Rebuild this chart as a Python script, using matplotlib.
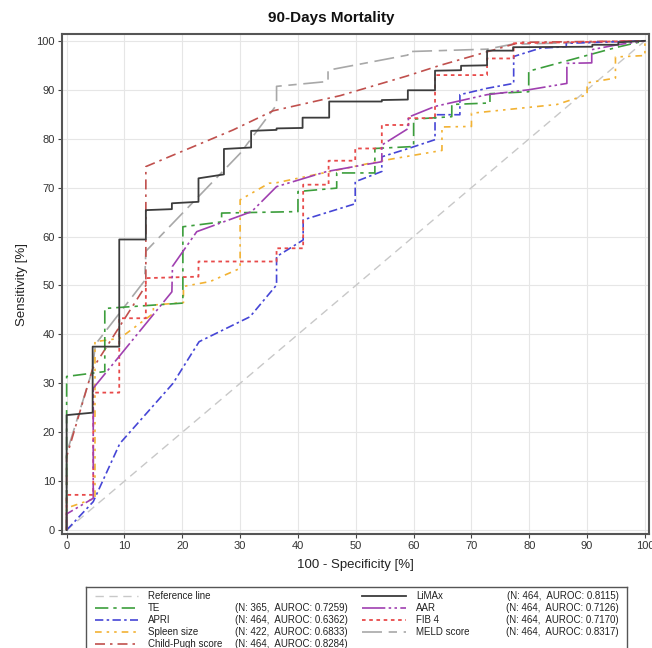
import matplotlib
matplotlib.use("Agg")
import matplotlib.pyplot as plt
from matplotlib.lines import Line2D

plt.rcParams['font.family'] = ['Liberation Sans', 'DejaVu Sans']

# ---------------- data (100 - specificity, sensitivity) ----------------
ref_x = [0, 100]
ref_y = [0, 100]

limax_x = [0, 0, 4.5, 4.5, 9.1, 9.1, 13.7, 13.7, 18.2, 18.2, 22.8, 22.8, 27.2, 27.2, 31.9, 31.9,
           36.3, 36.3, 40.8, 40.8, 45.4, 45.4, 54.5, 54.5, 59.0, 59.0, 63.7, 63.7, 68.2, 68.2,
           72.7, 72.7, 77.2, 77.2, 90.9, 90.9, 95.4, 95.4, 100]
limax_y = [0, 23.5, 24.0, 37.5, 37.5, 59.4, 59.4, 65.4, 65.6, 66.8, 67.1, 71.9, 72.7, 77.9, 78.2, 81.6,
           81.8, 82.1, 82.2, 84.3, 84.3, 87.6, 87.6, 87.9, 88.0, 89.9, 89.9, 93.9, 94.0, 94.9,
           95.0, 98.0, 98.0, 98.7, 98.8, 99.2, 99.2, 99.7, 100]

te_x = [0, 0, 6.6, 6.6, 20.1, 20.1, 26.8, 26.8, 40.0, 40.0, 46.7, 46.7, 53.3, 53.3, 60.0, 60.0,
        66.6, 66.6, 73.2, 73.2, 79.9, 79.9, 95.2, 100]
te_y = [0, 31.4, 32.4, 45.3, 46.4, 62.0, 63.0, 64.8, 65.1, 69.2, 69.9, 73.0, 73.0, 78.0, 78.4, 84.0,
        84.5, 87.0, 87.3, 89.2, 89.6, 93.8, 98.7, 100]

apri_x = [0, 4.6, 9.2, 18.4, 22.9, 31.7, 36.3, 36.3, 40.9, 40.9, 49.9, 49.9, 54.5, 54.5, 59.1,
          63.7, 63.7, 68.0, 68.0, 72.7, 77.3, 77.3, 81.9, 86.4, 86.4, 100]
apri_y = [0, 5.8, 17.7, 30.0, 38.5, 43.6, 50.1, 55.9, 59.3, 63.4, 66.7, 71.2, 73.3, 76.3, 78.0,
          79.8, 84.9, 84.9, 89.0, 90.3, 91.3, 96.8, 98.5, 98.8, 99.5, 100]

spleen_x = [0, 0, 4.9, 4.9, 9.2, 15.0, 15.0, 20.2, 20.2, 24.8, 30.0, 30.0, 35.0, 36.3, 54.5, 64.9,
            64.9, 70.0, 70.0, 84.8, 90.0, 90.0, 94.9, 94.9, 100, 100]
spleen_y = [0, 4.5, 6.5, 38.5, 39.2, 44.3, 46.0, 46.5, 49.8, 50.8, 53.5, 67.5, 70.9, 71.0, 75.5, 77.6,
            82.4, 82.5, 85.2, 87.0, 89.0, 91.4, 92.4, 96.7, 97.0, 100]

cp_x = [0, 0, 4.5, 13.7, 13.7, 28.8, 35.7, 47.3, 58.8, 64.6, 78.4, 100]
cp_y = [0, 15.0, 33.0, 50.0, 74.3, 81.8, 85.7, 88.8, 92.8, 95.0, 99.7, 100]

aar_x = [0, 0, 4.6, 4.6, 18.2, 18.3, 22.5, 32.0, 36.3, 45.0, 54.5, 54.5, 59.1, 59.1, 63.7, 72.7,
         79.9, 86.5, 86.5, 90.8, 90.8, 95.2, 100]
aar_y = [0, 3.3, 6.5, 29.0, 48.7, 53.9, 61.0, 65.1, 70.2, 73.3, 75.3, 78.7, 82.1, 84.4, 86.6, 89.0,
         90.0, 91.3, 95.4, 95.5, 98.2, 99.2, 100]

fib4_x = [0, 0, 4.6, 4.6, 9.1, 9.1, 13.7, 13.7, 22.8, 22.8, 36.3, 36.3, 40.9, 40.9, 45.3, 45.3,
          49.9, 49.9, 54.5, 54.5, 59.1, 59.1, 63.7, 63.7, 72.7, 72.7, 77.3, 77.3, 100]
fib4_y = [0, 7.2, 7.2, 28.1, 28.1, 43.3, 43.3, 51.5, 51.8, 54.9, 54.9, 57.6, 57.6, 70.6, 70.6, 75.5,
          75.5, 78.0, 78.0, 82.8, 82.8, 84.2, 84.2, 93.0, 93.0, 96.4, 96.4, 99.5, 100]

meld_x = [0, 0, 4.4, 5.0, 13.5, 13.7, 30.0, 36.3, 36.3, 45.2, 45.2, 59.0, 59.0, 72.7, 77.0, 100]
meld_y = [0, 15.7, 32.5, 38.0, 51.0, 57.0, 77.0, 86.9, 90.7, 91.7, 94.0, 97.1, 97.8, 98.3, 99.3, 100]

names = ["Reference line", "TE", "APRI", "Spleen size", "Child-Pugh score",
         "LiMAx", "AAR", "FIB 4", "MELD score"]
n_vals = [None, 365, 464, 422, 464, 464, 464, 464, 464]
auroc_vals = [None, "0.7259", "0.6362", "0.6833", "0.8284", "0.8115", "0.7126", "0.7170", "0.8317"]

# ---------------- styles ----------------
styles = {
    "Reference line": dict(color="#c8c8c8", lw=1.0, dashes=(6, 4)),
    "TE": dict(color="#3c9e3c", lw=1.2, dashes=(8, 3, 2, 3)),
    "APRI": dict(color="#4646d6", lw=1.2, dashes=(5, 2, 1.5, 2)),
    "Spleen size": dict(color="#f2b233", lw=1.2, dashes=(4, 3, 1.5, 3, 1.5, 3)),
    "Child-Pugh score": dict(color="#c0504d", lw=1.2, dashes=(6, 3, 1.5, 3)),
    "LiMAx": dict(color="#3c3c3c", lw=1.3, dashes=()),
    "AAR": dict(color="#a040b0", lw=1.2, dashes=(14, 2, 1.5, 2, 1.5, 2)),
    "FIB 4": dict(color="#e84a4a", lw=1.3, dashes=(2, 2)),
    "MELD score": dict(color="#a8a8a8", lw=1.2, dashes=(12, 4, 5, 4)),
}

series = {
    "Reference line": (ref_x, ref_y),
    "TE": (te_x, te_y),
    "APRI": (apri_x, apri_y),
    "Spleen size": (spleen_x, spleen_y),
    "Child-Pugh score": (cp_x, cp_y),
    "LiMAx": (limax_x, limax_y),
    "AAR": (aar_x, aar_y),
    "FIB 4": (fib4_x, fib4_y),
    "MELD score": (meld_x, meld_y),
}

fig = plt.figure(figsize=(6.52, 6.48), dpi=100)
ax = fig.add_axes([62 / 652, 1 - 534 / 648, (649 - 62) / 652, (534 - 34) / 648])

draw_order = ["Reference line", "MELD score", "Child-Pugh score", "APRI", "Spleen size",
              "TE", "FIB 4", "AAR", "LiMAx"]
for nm in draw_order:
    xs, ys = series[nm]
    st = styles[nm]
    line, = ax.plot(xs, ys, color=st["color"], lw=st["lw"])
    if st["dashes"]:
        line.set_dashes(st["dashes"])

ax.set_xlim(-0.8, 100.7)
ax.set_ylim(-0.8, 101.4)
ax.set_xticks(range(0, 101, 10))
ax.set_yticks(range(0, 101, 10))
ax.grid(True, color="#e6e6e6", lw=0.8)
ax.set_axisbelow(True)
for sp in ax.spines.values():
    sp.set_color("#555555")
    sp.set_linewidth(1.5)
ax.tick_params(axis="both", labelsize=8, colors="#444444", length=3, width=0.8, pad=2)
for lbl in ax.get_xticklabels() + ax.get_yticklabels():
    lbl.set_color("#333333")
ax.set_xlabel("100 - Specificity [%]", fontsize=9.5, color="#222222", labelpad=6)
ax.set_ylabel("Sensitivity [%]", fontsize=9.5, color="#222222", labelpad=6)
fig.text(331 / 652, 1 - 18 / 648, "90-Days Mortality", ha="center", va="center",
         fontsize=11, fontweight="bold", color="#111111")

# ---------------- legend box ----------------
lax = fig.add_axes([86 / 652, 1 - 660 / 648, (627 - 86) / 652, (660 - 587) / 648])
lax.set_xlim(86, 627)
lax.set_ylim(660, 587)
lax.set_xticks([])
lax.set_yticks([])
for sp in lax.spines.values():
    sp.set_color("#555555")
    sp.set_linewidth(1.0)

row_y = [595.5, 607.5, 619.5, 631.5, 643.5]
for i, nm in enumerate(names):
    col = 0 if i < 5 else 1
    r = i if i < 5 else i - 5
    y = row_y[r]
    st = styles[nm]
    if col == 0:
        x0, x1, tx, sx = 95, 138, 148, 348
    else:
        x0, x1, tx, sx = 362, 406, 416, 619
    ln = Line2D([x0, x1], [y, y], color=st["color"], lw=st["lw"])
    if st["dashes"]:
        ln.set_dashes(st["dashes"])
    lax.add_line(ln)
    lax.text(tx, y, nm, ha="left", va="center", fontsize=7, color="#222222")
    if n_vals[i] is not None:
        lax.text(sx, y, f"(N: {n_vals[i]},  AUROC: {auroc_vals[i]})", ha="right", va="center",
                 fontsize=7, color="#222222")

fig.savefig("out.png", dpi=100)
